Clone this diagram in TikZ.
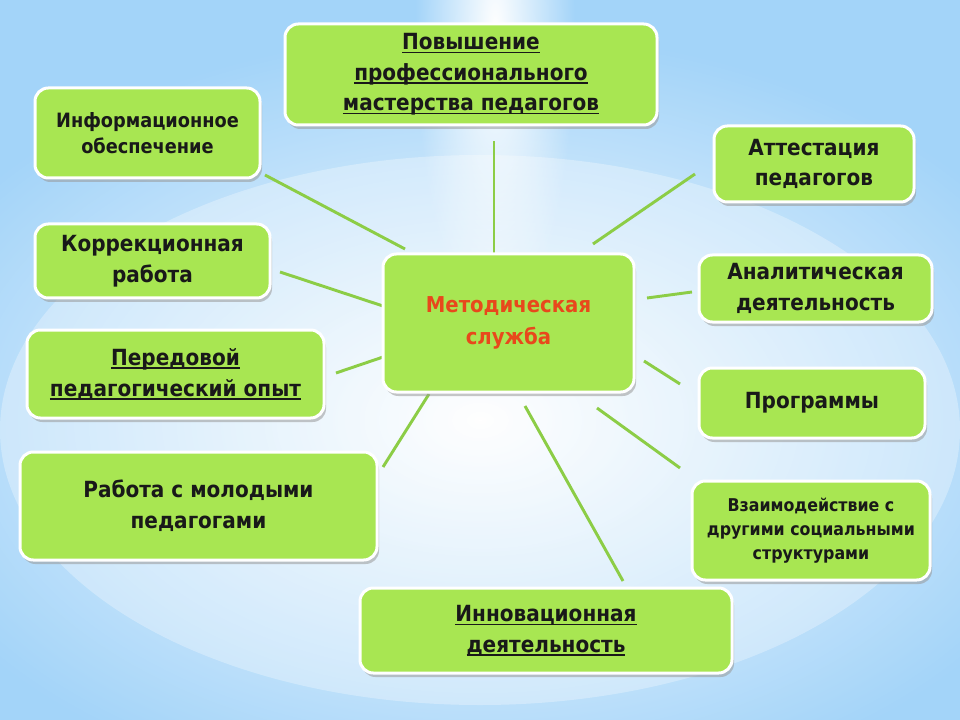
\documentclass[tikz,border=0pt]{standalone}
\usepackage{fontspec}
\setmainfont{DejaVu Sans Condensed}
\usetikzlibrary{shadows,fadings}

\definecolor{bgblue}{RGB}{163,212,249}
\definecolor{boxgreen}{RGB}{168,230,82}
\definecolor{linkgreen}{RGB}{140,205,70}
\definecolor{titlered}{RGB}{232,72,28}
\definecolor{txtdark}{RGB}{25,25,25}

\newcommand\ulinetxt[1]{\setbox0\hbox{#1}\rlap{\rule[-2.6pt]{\wd0}{1.1pt}}\box0}

\tikzfading[name=glow, inner color=transparent!0, outer color=transparent!100]

\tikzset{
	box/.style={draw=white, line width=2.25pt, fill=boxgreen, rounded corners=10pt,
		align=center, text=txtdark, font=\bfseries\fontsize{16.7}{23}\selectfont,
		drop shadow={shadow xshift=1.5pt, shadow yshift=-3pt, fill=black!40, opacity=0.55}},
	small text/.style={font=\bfseries\fontsize{14.8}{19.5}\selectfont},
	tiny text/.style={font=\bfseries\fontsize{13.2}{18}\selectfont},
	link/.style={draw=linkgreen, line width=2.2pt}}
\tikzset{every picture/.style={line width=0.75pt}}

\begin{document}
\begin{tikzpicture}[x=0.75pt,y=0.75pt,yscale=-1,xscale=1]
	\useasboundingbox (0,0) rectangle (960,720);

	%Background
	\fill[bgblue] (0,0) rectangle (960,720);
	\fill[white, path fading=glow] (480,420) ellipse (620 and 390);
	\fill[white, path fading=glow] (495,30) ellipse (80 and 300);
	\fill[white, fill opacity=0.3] (480,430) ellipse (480 and 275);

	%Straight Lines
	\coordinate (c-povysh) at (494,253);  \coordinate (e-povysh) at (494,141);
	\coordinate (c-inform) at (405,249);  \coordinate (e-inform) at (265,175);
	\coordinate (c-korr)   at (386,307);  \coordinate (e-korr)   at (280,272);
	\coordinate (c-pered)  at (386,356);  \coordinate (e-pered)  at (336,373);
	\coordinate (c-rabota) at (429,394);  \coordinate (e-rabota) at (383,467);
	\coordinate (c-attest) at (593,244);  \coordinate (e-attest) at (695,174);
	\coordinate (c-analit) at (647,298);  \coordinate (e-analit) at (692,292);
	\coordinate (c-progr)  at (644,361);  \coordinate (e-progr)  at (680,384);
	\coordinate (c-vzaim)  at (597,408);  \coordinate (e-vzaim)  at (680,468);
	\coordinate (c-innov)  at (525,406);  \coordinate (e-innov)  at (623,581);
	\foreach \n in {povysh,inform,korr,pered,rabota,attest,analit,progr,vzaim,innov}
		\draw[link] (c-\n) -- (e-\n);

	%Rounded Rect
	\node[box, minimum width=188.25pt, minimum height=103.5pt, text=titlered,
		font=\bfseries\fontsize{16.4}{23.5}\selectfont] (ctr) at (508.5,323) {Методическая\\служба};
	\node[box, minimum width=279pt, minimum height=75.75pt] (povysh) at (471,74.5)
		{\ulinetxt{Повышение}\\\ulinetxt{профессионального}\\\ulinetxt{мастерства педагогов}};
	\node[box, small text, minimum width=168.75pt, minimum height=67.5pt] (inform) at (147.5,133)
		{Информационное\\обеспечение};
	\node[box, minimum width=176.25pt, minimum height=55.5pt] (korr) at (152.5,261)
		{Коррекционная\\работа};
	\node[box, minimum width=222.75pt, minimum height=66pt] (pered) at (175.5,374)
		{\ulinetxt{Передовой}\\\ulinetxt{педагогический опыт}};
	\node[box, minimum width=267.75pt, minimum height=81pt] (rabota) at (198.5,506)
		{Работа с молодыми\\педагогами};
	\node[box, minimum width=150pt, minimum height=57pt] (attest) at (814,164)
		{Аттестация\\педагогов};
	\node[box, minimum width=174.75pt, minimum height=50.25pt] (analit) at (815.5,288.5)
		{Аналитическая\\деятельность};
	\node[box, minimum width=169.5pt, minimum height=52.5pt] (progr) at (812,403)
		{Программы};
	\node[box, tiny text, minimum width=178.5pt, minimum height=74.25pt] (vzaim) at (811,530.5)
		{Взаимодействие с\\другими социальными\\структурами};
	\node[box, minimum width=279pt, minimum height=63.75pt] (innov) at (546,630.5)
		{\ulinetxt{Инновационная}\\\ulinetxt{деятельность}};

\end{tikzpicture}
\end{document}
